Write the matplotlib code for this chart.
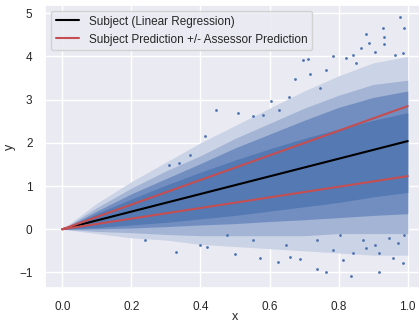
import numpy as np
import seaborn as sns
from matplotlib import pyplot as plt

sns.set_theme(style='darkgrid')
plt.rcParams['font.family'] = ['Liberation Sans', 'DejaVu Sans']

# x positions where the edges of the point cloud were read
band_x = [0.0, 0.1, 0.2, 0.3, 0.4, 0.5, 0.6, 0.7, 0.8, 0.9, 1.0]

# sparse outer edge of the cloud
sparse_lo = [0.0, -0.10, -0.20, -0.25, -0.35, -0.40, -0.45, -0.50, -0.55, -0.60, -0.60]
sparse_hi = [0.0, 0.60, 1.10, 1.55, 2.00, 2.40, 2.80, 3.20, 3.55, 3.85, 4.00]
# medium density
mid_lo = [0.0, -0.05, -0.08, -0.12, -0.15, -0.15, -0.15, -0.15, -0.10, -0.10, -0.10]
mid_hi = [0.0, 0.50, 0.95, 1.35, 1.70, 2.10, 2.45, 2.80, 3.10, 3.35, 3.45]
# dense part
dense_lo = [0.0, 0.01, 0.03, 0.06, 0.10, 0.13, 0.18, 0.22, 0.27, 0.32, 0.36]
dense_hi = [0.0, 0.42, 0.82, 1.17, 1.52, 1.88, 2.20, 2.52, 2.82, 3.05, 3.20]
# almost solid core
core_lo = [0.0, 0.04, 0.10, 0.16, 0.24, 0.32, 0.42, 0.52, 0.62, 0.75, 0.85]
core_hi = [0.0, 0.36, 0.70, 1.02, 1.32, 1.60, 1.86, 2.10, 2.32, 2.52, 2.70]

# single points lying outside the cloud
out_x = [0.978, 0.988, 0.928, 0.931, 0.880, 0.930, 0.888, 0.865, 0.904, 0.841,
         0.784, 0.697, 0.711, 0.962, 0.986, 0.822, 0.851, 0.673, 0.716, 0.745,
         0.764, 0.657, 0.628, 0.603, 0.582, 0.510, 0.445, 0.553, 0.370, 0.413,
         0.337, 0.308,
         0.330, 0.500, 0.572, 0.625, 0.659, 0.688, 0.738, 0.764, 0.837, 0.918,
         0.986, 0.957, 0.880, 0.813, 0.784, 0.841, 0.918, 0.904, 0.736, 0.649,
         0.400, 0.418, 0.240, 0.476, 0.990, 0.870, 0.947, 0.971, 0.803, 0.553]
out_y = [4.92, 4.65, 4.65, 4.46, 4.51, 4.28, 4.30, 4.19, 4.11, 4.04,
         4.00, 3.92, 3.94, 4.04, 4.07, 3.96, 3.84, 3.48, 3.60, 3.26,
         3.69, 3.07, 2.76, 2.96, 2.65, 2.69, 2.75, 2.61, 1.72, 2.15,
         1.53, 1.49,
         -0.53, -0.57, -0.67, -0.75, -0.65, -0.69, -0.92, -0.98, -1.08, -1.00,
         -0.79, -0.67, -0.44, -0.71, -0.48, -0.56, -0.56, -0.36, -0.25, -0.36,
         -0.36, -0.40, -0.25, -0.13, -0.13, -0.25, -0.21, -0.32, -0.13, -0.25]

# regression line and +/- assessor prediction
line_x = [0.0, 1.0]
subject_y = [0.0, 2.04]
upper_y = [0.0, 2.85]
lower_y = [0.0, 1.23]

fig = plt.figure(figsize=(4.19, 3.24), dpi=100)
ax = fig.add_axes([45/419, 36/324, 380/419, 283/324])

# cloud drawn as bands of falling density
ax.fill_between(band_x, sparse_lo, sparse_hi, color='#cbd3e6', lw=0)
ax.fill_between(band_x, mid_lo, mid_hi, color='#a3b4d4', lw=0)
ax.fill_between(band_x, dense_lo, dense_hi, color='#728ec0', lw=0)
ax.fill_between(band_x, core_lo, core_hi, color='#5479b3', lw=0)
ax.scatter(out_x, out_y, s=4, color='#4c72b0', linewidths=0)

ax.plot(line_x, subject_y, color='black', lw=1.5,
        label='Subject (Linear Regression)')
ax.plot(line_x, upper_y, color='#c44e52', lw=1.5,
        label='Subject Prediction +/- Assessor Prediction')
ax.plot(line_x, lower_y, color='#c44e52', lw=1.5)

ax.set_xlim(-0.05, 1.05)
ax.set_ylim(-1.36, 5.19)
ax.set_xticks([0.0, 0.2, 0.4, 0.6, 0.8, 1.0])
ax.set_yticks([-1, 0, 1, 2, 3, 4, 5])
ax.tick_params(labelsize=8.5, pad=3)
ax.set_xlabel('x', fontsize=9, labelpad=-1)
ax.set_ylabel('y', fontsize=9, labelpad=2)
ax.legend(loc='upper left', fontsize=8.5)

fig.savefig('out.png', dpi=100)
